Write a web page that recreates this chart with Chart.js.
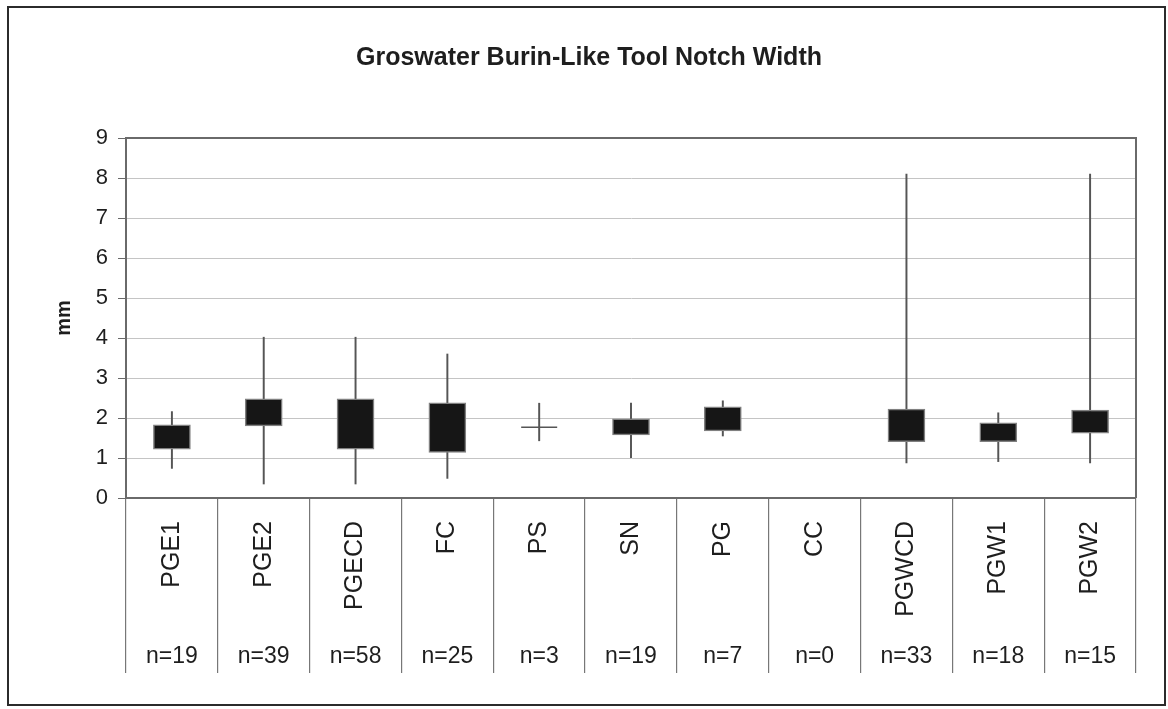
<!DOCTYPE html>
<html>
<head>
<meta charset="utf-8">
<script src="https://cdn.jsdelivr.net/npm/chart.js@4/dist/chart.umd.min.js"></script>
<style>
  html, body { margin: 0; padding: 0; background: #ffffff; }
  #wrap { position: relative; width: 1168px; height: 709px; overflow: hidden; }
  #frame { position: absolute; left: 7px; top: 6px; width: 1159px; height: 700px;
           box-sizing: border-box; border: 2px solid #2b2b2b; pointer-events: none; }
  canvas { position: absolute; left: 0; top: 0; }
</style>
</head>
<body>
<div id="wrap">
  <canvas id="c" width="1168" height="709"></canvas>
  <div id="frame"></div>
</div>
<script>
// ---- data ----
const categories = ['PGE1', 'PGE2', 'PGECD', 'FC', 'PS', 'SN', 'PG', 'CC', 'PGWCD', 'PGW1', 'PGW2'];
const sampleSizes = [19, 39, 58, 25, 3, 19, 7, 0, 33, 18, 15];
const minValues = [0.74, 0.35, 0.35, 0.49, 1.43, 1.01, 1.55, null, 0.88, 0.91, 0.88];
const q1Values  = [1.22, 1.80, 1.22, 1.14, 1.77, 1.58, 1.68, null, 1.41, 1.41, 1.62];
const q3Values  = [1.83, 2.48, 2.48, 2.38, 1.77, 1.98, 2.28, null, 2.22, 1.88, 2.20];
const maxValues = [2.16, 4.02, 4.02, 3.60, 2.37, 2.37, 2.43, null, 8.10, 2.13, 8.10];
const yTicks = [0, 1, 2, 3, 4, 5, 6, 7, 8, 9];
const titleText = 'Groswater Burin-Like Tool Notch Width';
const yTitle = 'mm';

const nLabels = sampleSizes.map(n => 'n=' + n);
const whiskerData = categories.map((c, i) => (minValues[i] == null ? null : [minValues[i], maxValues[i]]));
const boxData = categories.map((c, i) => (q1Values[i] == null || q1Values[i] === q3Values[i] ? null : [q1Values[i], q3Values[i]]));
const flatData = categories.map((c, i) => (q1Values[i] != null && q1Values[i] === q3Values[i] ? q1Values[i] : null));

const FONT = "'Liberation Sans', Arial, sans-serif";
const TEXT = '#1e1e1e';
const AXIS = '#6a6a6a';

const areaBorder = {
  id: 'areaBorder',
  afterDatasetsDraw(chart) {
    const a = chart.chartArea, ctx = chart.ctx;
    ctx.save();
    ctx.strokeStyle = AXIS;
    ctx.lineWidth = 2;
    ctx.beginPath();
    ctx.moveTo(a.left, a.top); ctx.lineTo(a.right, a.top); ctx.lineTo(a.right, a.bottom);
    ctx.stroke();
    ctx.restore();
  }
};

new Chart(document.getElementById('c'), {
  data: {
    labels: categories,
    datasets: [
      {
        type: 'bar', label: 'box', data: boxData, grouped: false, order: 0,
        barThickness: 37, backgroundColor: '#161616', borderColor: '#808080',
        borderWidth: 1.5, borderSkipped: false
      },
      {
        type: 'bar', label: 'range', data: whiskerData, grouped: false, order: 2,
        barThickness: 1.3, backgroundColor: '#555555', borderWidth: 0
      },
      {
        type: 'line', label: 'flat', data: flatData, order: 1, showLine: false,
        pointStyle: 'line', pointRadius: 18, pointBorderWidth: 1.5, pointBorderColor: '#555555',
        pointBackgroundColor: '#555555'
      }
    ]
  },
  options: {
    responsive: false,
    devicePixelRatio: 1,
    animation: false,
    layout: { padding: { left: 42, right: 32, top: 0, bottom: 0 } },
    plugins: {
      legend: { display: false },
      tooltip: { enabled: false },
      title: {
        display: true, text: titleText, color: TEXT,
        font: { family: FONT, size: 25, weight: 'bold' },
        padding: { top: 43, bottom: 65 }
      }
    },
    scales: {
      x: {
        type: 'category', position: 'bottom', weight: 0, offset: true,
        grid: { offset: true, drawOnChartArea: false, drawTicks: true, tickLength: 175,
                color: '#777777', tickColor: '#777777', lineWidth: 1.2 },
        border: { display: true, color: AXIS, width: 2 },
        ticks: { color: TEXT, font: { family: FONT, size: 25 }, minRotation: 90, maxRotation: 90,
                 autoSkip: false, padding: -152 },
        afterFit(s) { s.height = 140; }
      },
      x2: {
        type: 'category', position: 'bottom', weight: 1, offset: true, labels: nLabels,
        grid: { display: false, drawTicks: false },
        border: { display: false },
        ticks: { color: TEXT, font: { family: FONT, size: 23 }, maxRotation: 0, autoSkip: false, padding: 5 },
        afterFit(s) { s.height = 71; }
      },
      y: {
        type: 'linear', min: 0, max: 9,
        afterBuildTicks(s) { s.ticks = yTicks.map(v => ({ value: v })); },
        grid: { color: '#c4c4c4', lineWidth: 1, tickColor: AXIS, tickLength: 8, drawTicks: true },
        border: { display: true, color: AXIS, width: 2 },
        ticks: { color: TEXT, font: { family: FONT, size: 22 }, padding: 10 },
        title: { display: true, text: yTitle, color: TEXT, font: { family: FONT, size: 20, weight: 'bold' },
                 padding: { top: 10, bottom: 0 } },
        afterFit(s) { s.width = 84; }
      }
    }
  },
  plugins: [areaBorder]
});
</script>
</body>
</html>
